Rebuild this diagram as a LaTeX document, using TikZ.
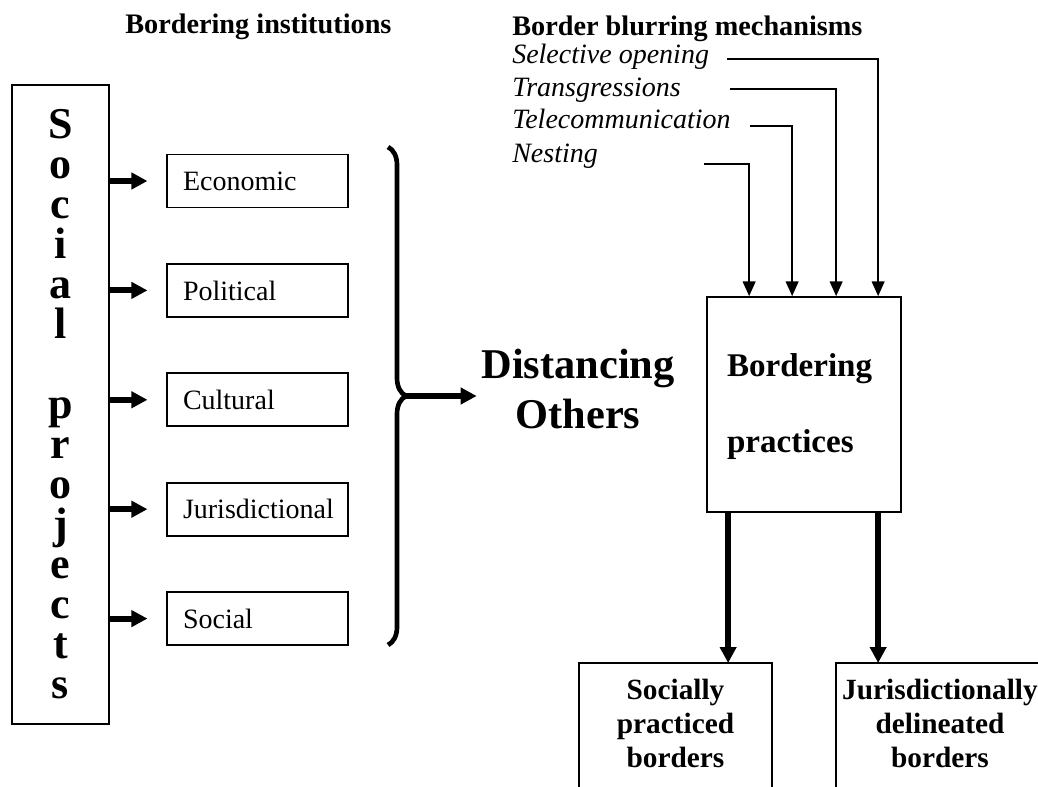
\documentclass[tikz,border=0pt]{standalone}
\usepackage{fontspec}
\setmainfont{Liberation Serif}
\usepackage{tikz}
\usetikzlibrary{arrows.meta, positioning, decorations.pathreplacing}
\tikzset{
    projbox/.style={rectangle, draw, line width=1.3pt, minimum width=72.75pt, minimum height=479.25pt, align=center, font=\bfseries\fontsize{33}{30}\selectfont},
    instbox/.style={rectangle, draw, line width=1.3pt, minimum height=39.75pt, text width=111.75pt, inner xsep=12pt, text height=17pt, text depth=2.4pt, align=left, font=\fontsize{21}{24}\selectfont},
    heading/.style={anchor=base west, inner sep=0pt, font=\bfseries\fontsize{21.2}{24}\selectfont},
    mechanism/.style={anchor=base west, inner sep=0pt, font=\itshape\fontsize{21}{24}\selectfont},
    practbox/.style={rectangle, draw, line width=1.3pt, minimum height=161.25pt, text width=115.5pt, inner xsep=15pt, text height=20pt, align=left, font=\bfseries\fontsize{24.8}{57}\selectfont},
    resultbox/.style={rectangle, anchor=north, inner xsep=2pt, inner ysep=12pt, align=center, font=\bfseries\fontsize{22}{25.5}\selectfont},
    boxline/.style={line width=1.3pt},
    fatarrow/.style={-{Triangle[length=12pt, width=12pt]}, line width=4.5pt},
    thinarrow/.style={-{Triangle[length=11pt, width=9.5pt]}, line width=1.4pt}
}
\begin{document}
\begin{tikzpicture}[x=0.75pt, y=-0.75pt]
            \useasboundingbox (0,0) rectangle (1038,787);
            \clip (0,0) rectangle (1038,787);

            % left half
            \node[heading] (insthead) at (125,34) {Bordering institutions};
            \node[projbox] (proj) at (60.5,404.5) {S\\o\\c\\i\\a\\l\\[30pt]p\\r\\o\\j\\e\\c\\t\\s};
            \node[instbox] (econ) at (257.5,181) {Economic};
            \node[instbox, below=41pt of econ] (poli) {Political};
            \node[instbox, below=41pt of poli] (cult) {Cultural};
            \node[instbox, below=41pt of cult] (juri) {Jurisdictional};
            \node[instbox, below=41pt of juri] (soci) {Social};

            \draw[fatarrow] (proj.east |- econ) -- ([xshift=-14pt]econ.west);
            \draw[fatarrow] (proj.east |- poli) -- ([xshift=-14pt]poli.west);
            \draw[fatarrow] (proj.east |- cult) -- ([xshift=-14pt]cult.west);
            \draw[fatarrow] (proj.east |- juri) -- ([xshift=-14pt]juri.west);
            \draw[fatarrow] (proj.east |- soci) -- ([xshift=-14pt]soci.west);

            \draw[line width=3.5pt, decorate, decoration={brace, amplitude=13.5pt}] (388,147) -- (388,645);
            \coordinate (bracetip) at (405,396);
            \node[align=center, font=\bfseries\fontsize{31.8}{37.5}\selectfont] (dist) at (578,388.5) {Distancing\\Others};
            \draw[fatarrow, line width=3.8pt] (bracetip) -- (bracetip -| dist.west);

            % right half
            \node[heading] (blurhead) at (512,36) {Border blurring mechanisms};
            \node[mechanism] (selop) at (512,64) {Selective opening};
            \node[mechanism] (trans) at (512,97) {Transgressions};
            \node[mechanism] (telec) at (512,129) {Telecommunication};
            \node[mechanism] (nest) at (512,163) {Nesting};
            \coordinate (selopend) at (727,59);
            \coordinate (transend) at (730,89);
            \coordinate (telecend) at (750,126);
            \coordinate (nestend) at (704,164);

            \node[practbox] (prac) at (804,404.5) {Bordering\\practices};
            \coordinate (in1) at ([xshift=32.25pt]prac.north west);
            \coordinate (in2) at ([xshift=64.5pt]prac.north west);
            \coordinate (in3) at ([xshift=97.5pt]prac.north west);
            \coordinate (in4) at ([xshift=129pt]prac.north west);
            \draw[thinarrow] (nestend) -| (in1);
            \draw[thinarrow] (telecend) -| (in2);
            \draw[thinarrow] (transend) -| (in3);
            \draw[thinarrow] (selopend) -| (in4);

            \node[resultbox, text width=140.75pt] (socb) at (675.5,663) {Socially\\practiced\\borders};
            \node[resultbox, text width=152pt] (jurb) at (940,663) {Jurisdictionally\\delineated\\borders};
            \draw[boxline] ([yshift=-60pt]socb.south west) -- (socb.north west) -- (socb.north east) -- ([yshift=-60pt]socb.south east);
            \draw[boxline] ([yshift=-60pt]jurb.south west) -- (jurb.north west) -- (jurb.north east) -- ([yshift=-60pt]jurb.south east);

            \coordinate (out1) at ([xshift=16.5pt]prac.south west);
            \coordinate (out2) at ([xshift=129pt]prac.south west);
            \draw[fatarrow] (out1) -- (out1 |- socb.north);
            \draw[fatarrow] (out2) -- (out2 |- jurb.north);
        \end{tikzpicture}
\end{document}
